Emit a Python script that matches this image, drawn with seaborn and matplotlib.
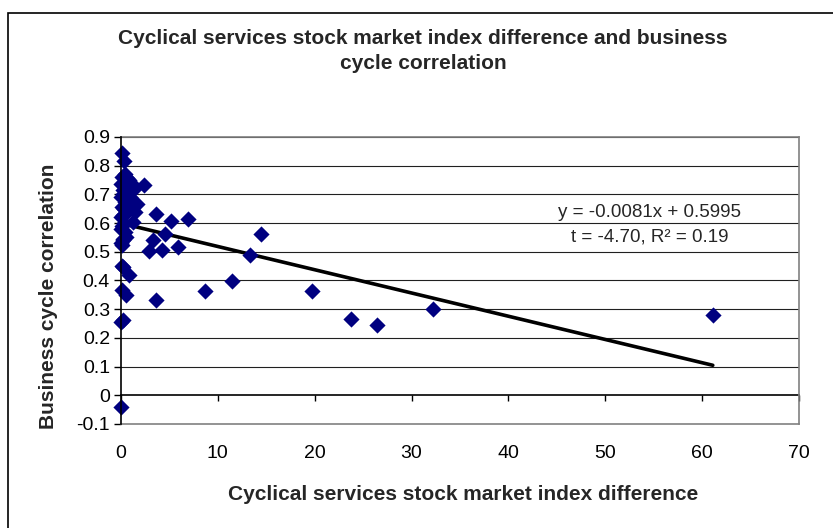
import matplotlib
matplotlib.use('Agg')
import matplotlib.pyplot as plt
from matplotlib.patches import Rectangle
import numpy as np
import pandas as pd
import seaborn as sns

# values
index_diff = [0.07, 0.34, 0.40, 0.60, 0.00, 1.10, 2.40, 0.24, 0.75, 0.00,
              0.40, 1.70, 0.07, 1.45, 3.60, 0.24, 1.27, 5.20, 6.95, 0.00,
              0.40, 4.50, 0.24, 3.30, 0.07, 2.85, 4.20, 5.90, 14.45, 13.30,
              0.24, 0.85, 11.50, 8.70, 19.70, 0.14, 0.49, 3.60, 0.00, 0.24,
              23.70, 26.40, 32.20, 61.10, 0.00, 0.10, 0.50, 0.90, 0.20, 0.60,
              1.00, 0.30, 0.80, 0.15, 0.50, 0.05, 0.35, 0.60, 0.00, 1.30,
              0.45, 0.20, 0.10, 0.90]
bc_corr = [0.844, 0.818, 0.772, 0.757, 0.737, 0.737, 0.732, 0.714, 0.702, 0.691,
           0.673, 0.668, 0.656, 0.639, 0.633, 0.627, 0.604, 0.607, 0.614, 0.581,
           0.569, 0.563, 0.546, 0.542, 0.523, 0.502, 0.507, 0.515, 0.561, 0.488,
           0.447, 0.418, 0.397, 0.363, 0.363, 0.366, 0.348, 0.331, 0.255, 0.261,
           0.265, 0.246, 0.300, 0.279, -0.041, 0.760, 0.740, 0.720, 0.700, 0.680,
           0.660, 0.650, 0.750, 0.590, 0.550, 0.530, 0.600, 0.710, 0.620, 0.720,
           0.630, 0.540, 0.450, 0.690]

slope = -0.0081
intercept = 0.5995
eq_label = 'y = -0.0081x + 0.5995'
stat_label = 't = -4.70, R² = 0.19'

title = 'Cyclical services stock market index difference and business\ncycle correlation'
xlabel = 'Cyclical services stock market index difference'
ylabel = 'Business cycle correlation'

x_ticks = [0, 10, 20, 30, 40, 50, 60, 70]
y_ticks = [-0.1, 0, 0.1, 0.2, 0.3, 0.4, 0.5, 0.6, 0.7, 0.8, 0.9]
y_ticklabels = ['-0.1', '0', '0.1', '0.2', '0.3', '0.4', '0.5', '0.6', '0.7', '0.8', '0.9']

MARKER_COLOR = '#000080'
LABEL_SIZE = 15
TICK_SIZE = 14

sns.set_theme(style='white')
plt.rcParams['font.family'] = ['Liberation Sans', 'DejaVu Sans']

df = pd.DataFrame({'diff': index_diff, 'corr': bc_corr})
x_fit = np.array([0, max(index_diff)])
df_fit = pd.DataFrame({'diff': x_fit, 'corr': intercept + slope * x_fit})

fig = plt.figure(figsize=(8.33, 5.28), dpi=100)
ax = fig.add_axes([121 / 833, 1 - 424 / 528, 678 / 833, 287 / 528])

# outer chart frame, runs off the right and bottom edges
fig.patches.append(Rectangle((8 / 833, -0.2), 1.2, 1.2 - 12.5 / 528, transform=fig.transFigure,
                             fill=False, edgecolor='black', linewidth=1.2))

for yt in y_ticks[2:]:
    ax.axhline(yt, color='#202020', linewidth=0.8, zorder=1)

sns.lineplot(data=df_fit, x='diff', y='corr', ax=ax, color='black', linewidth=2.6, zorder=3)
sns.scatterplot(data=df, x='diff', y='corr', ax=ax, marker='D', color=MARKER_COLOR,
                s=68, edgecolor=MARKER_COLOR, linewidth=0, zorder=4, clip_on=False)

ax.set_xlim(0, 70)
ax.set_ylim(-0.1, 0.9)
ax.set_xticks(x_ticks)
ax.set_yticks(y_ticks)
ax.set_yticklabels(y_ticklabels)

for side in ['top', 'right', 'bottom']:
    ax.spines[side].set_color('#808080')
    ax.spines[side].set_linewidth(1.2)
ax.spines['left'].set_color('black')
ax.spines['left'].set_linewidth(1.2)
ax.spines['left'].set_zorder(5)

ax.tick_params(axis='x', length=0, pad=15, labelsize=TICK_SIZE, colors='black')
ax.tick_params(axis='y', direction='out', length=5, width=1, pad=3, labelsize=TICK_SIZE,
               colors='black', left=True)

# horizontal axis crossing at y = 0 with its own tick marks
sec = ax.secondary_xaxis(0.1)
sec.set_xticks(x_ticks)
sec.tick_params(axis='x', direction='out', length=4, width=1, labelbottom=False, color='black')
sec.spines['bottom'].set_color('black')
sec.spines['bottom'].set_linewidth(1.2)

ax.set_xlabel(xlabel, fontsize=LABEL_SIZE, fontweight='bold')
ax.xaxis.set_label_coords((463 - 121) / 678, (424 - 494) / 287)
ax.xaxis.label.set_va('center')
ax.set_ylabel(ylabel, fontsize=LABEL_SIZE, fontweight='bold')
ax.yaxis.set_label_coords((49 - 121) / 678, (424 - 296) / 287)
ax.yaxis.label.set_va('center')

fig.text(423 / 833, 1 - 51 / 528, title, ha='center', va='center', fontsize=LABEL_SIZE,
         fontweight='bold', linespacing=1.38)

ax.text(54.6, 0.637, eq_label, ha='center', va='center', fontsize=13.5)
ax.text(54.6, 0.551, stat_label, ha='center', va='center', fontsize=13.5)

fig.savefig('out.png', dpi=100)
